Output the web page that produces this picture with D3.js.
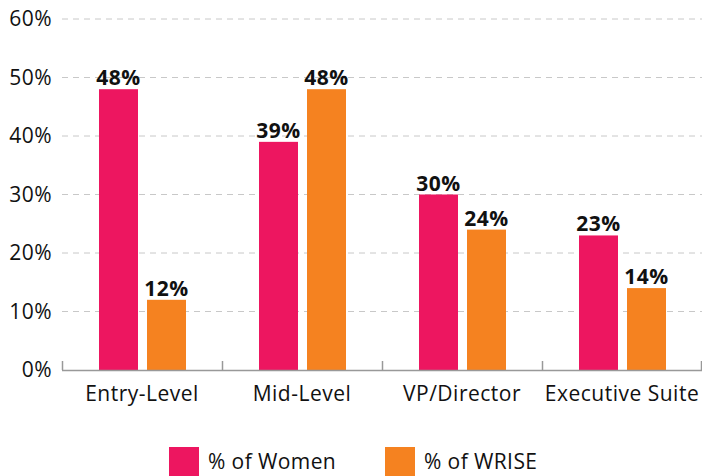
<!DOCTYPE html>
<html>
<head>
<meta charset="utf-8">
<script src="https://cdn.jsdelivr.net/npm/d3@7"></script>
<style>
  body { margin: 0; background: #fff; }
  svg { display: block; font-family: "Open Sans", sans-serif; }
</style>
</head>
<body>
<div id="chart"></div>
<script>
// data
var categories = ["Entry-Level", "Mid-Level", "VP/Director", "Executive Suite"];
var seriesNames = ["% of Women", "% of WRISE"];
var women = [48, 39, 30, 23];
var wrise = [12, 48, 24, 14];
var yTicks = [0, 10, 20, 30, 40, 50, 60];
var colors = ["#ED1660", "#F58220"];

var W = 702, H = 476;
var margin = {top: 19, right: 0, bottom: 106, left: 62};
var width = W - margin.left - margin.right;
var height = H - margin.top - margin.bottom;

var svg = d3.select("#chart").append("svg")
  .attr("width", W)
  .attr("height", H);

var g = svg.append("g")
  .attr("transform", `translate(${margin.left},${margin.top})`);

var x0 = d3.scaleBand().domain(categories).range([0, width]);
var x1 = d3.scaleBand().domain(seriesNames).range([37, 124]).paddingInner(0.1875);
var y = d3.scaleLinear().domain([0, 60]).range([height, 0]);

// gridlines
g.selectAll(".grid")
  .data(yTicks.filter(d => d > 0))
  .join("line")
  .attr("x1", 0).attr("x2", width)
  .attr("y1", d => y(d)).attr("y2", d => y(d))
  .attr("stroke", "#c8c8c8")
  .attr("stroke-width", 1)
  .attr("stroke-dasharray", "6,5");

// y labels
g.selectAll(".ylab")
  .data(yTicks)
  .join("text")
  .attr("x", -10)
  .attr("y", d => y(d))
  .attr("dy", "0.35em")
  .attr("text-anchor", "end")
  .attr("font-size", 21)
  .attr("letter-spacing", 0.5)
  .attr("fill", "#111")
  .text(d => d + "%");

// bars
var groups = g.selectAll(".grp")
  .data(categories)
  .join("g")
  .attr("transform", d => `translate(${x0(d)},0)`);

groups.each(function(cat, i) {
  var vals = [women[i], wrise[i]];
  var sel = d3.select(this);
  sel.selectAll("rect")
    .data(vals)
    .join("rect")
    .attr("x", (d, j) => x1(seriesNames[j]))
    .attr("width", x1.bandwidth())
    .attr("y", d => y(d))
    .attr("height", d => height - y(d))
    .attr("fill", (d, j) => colors[j]);
  sel.selectAll("text")
    .data(vals)
    .join("text")
    .attr("x", (d, j) => x1(seriesNames[j]) + x1.bandwidth() / 2)
    .attr("y", d => y(d) - 4)
    .attr("text-anchor", "middle")
    .attr("font-size", 21)
    .attr("font-weight", 700)
    .attr("letter-spacing", 0.5)
    .attr("fill", "#111")
    .text(d => d + "%");
});

// baseline and ticks
g.append("line")
  .attr("x1", 0).attr("x2", width)
  .attr("y1", height + 0.5).attr("y2", height + 0.5)
  .attr("stroke", "#999").attr("stroke-width", 1.5);
var bounds = categories.map(d => x0(d)).concat([width - 1]);
g.selectAll(".tk")
  .data(bounds)
  .join("line")
  .attr("x1", d => d + 0.5).attr("x2", d => d + 0.5)
  .attr("y1", height - 9).attr("y2", height)
  .attr("stroke", "#999").attr("stroke-width", 1.5);

// category labels
g.selectAll(".xlab")
  .data(categories)
  .join("text")
  .attr("x", d => x0(d) + x0.bandwidth() / 2)
  .attr("y", height + 31)
  .attr("text-anchor", "middle")
  .attr("font-size", 21)
  .attr("letter-spacing", 0.5)
  .attr("fill", "#111")
  .text(d => d);

// legend
var legX = [169, 385];
var leg = svg.selectAll(".leg")
  .data(seriesNames)
  .join("g")
  .attr("transform", (d, i) => `translate(${legX[i]},447)`);
leg.append("rect")
  .attr("width", 30).attr("height", 30)
  .attr("fill", (d, i) => colors[i]);
leg.append("text")
  .attr("x", 39)
  .attr("y", 22)
  .attr("font-size", 21)
  .attr("letter-spacing", 0.4)
  .attr("fill", "#111")
  .text(d => d);
</script>
</body>
</html>
